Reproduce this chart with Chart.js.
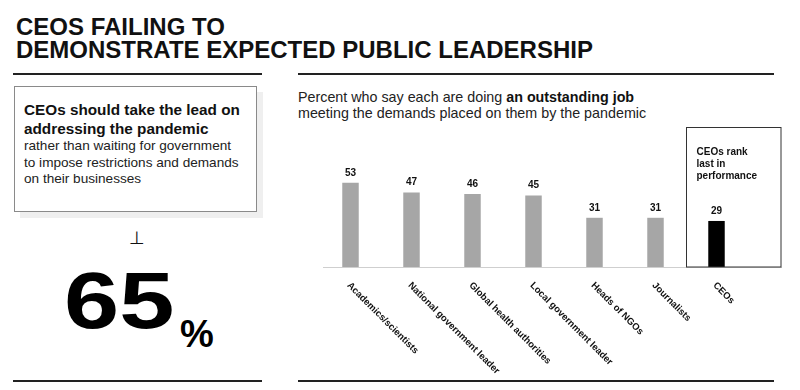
<!DOCTYPE html>
<html>
<head>
<meta charset="utf-8">
<script src="https://cdn.jsdelivr.net/npm/chart.js@4"></script>
<style>
    body { margin: 0; width: 800px; height: 390px; background: #fff; font-family: "Liberation Sans", Arial, sans-serif; color: #111; position: relative; overflow: hidden; }
    .title { position: absolute; left: 16px; top: 15px; font-size: 24px; font-weight: bold; line-height: 23px; color: #111; }
    .rule { position: absolute; height: 2px; background: #222; }
    .card { position: absolute; left: 14px; top: 86px; width: 241px; height: 124px; border: 1px solid #8a8a8a; box-shadow: 6px 6px 0 #efefef; background: #fff; }
    .card .lead { position: absolute; left: 9px; top: 13px; font-size: 15.3px; font-weight: bold; line-height: 19px; color: #111; }
    .card .rest { position: absolute; left: 9px; top: 51px; font-size: 13.6px; line-height: 16.5px; color: #222; }
    .perp { position: absolute; left: 129px; top: 227px; font-family: "DejaVu Sans", sans-serif; font-size: 18px; color: #111; }
    .big { position: absolute; left: 64px; top: 261px; font-size: 80px; line-height: 80px; font-weight: bold; color: #000; transform: scaleX(1.24); transform-origin: left top; }
    .pct { position: absolute; left: 180px; top: 313px; font-size: 38px; font-weight: bold; color: #000; }
    .sub { position: absolute; left: 298px; top: 89px; font-size: 14.3px; line-height: 16px; color: #222; }
    .sub b { color: #111; }
    #chartWrap { position: absolute; left: 300px; top: 120px; width: 490px; height: 260px; }
</style>
</head>
<body>
<div class="title">CEOS FAILING TO<br>DEMONSTRATE EXPECTED PUBLIC LEADERSHIP</div>
<div class="rule" style="left:13px; top:73px; width:249px;"></div>
<div class="rule" style="left:298px; top:73px; width:476px;"></div>
<div class="rule" style="left:13px; top:380px; width:249px;"></div>
<div class="rule" style="left:298px; top:380px; width:476px;"></div>

<div class="card">
    <div class="lead">CEOs should take the lead on<br>addressing the pandemic</div>
    <div class="rest">rather than waiting for government<br>to impose restrictions and demands<br>on their businesses</div>
</div>
<div class="perp">⊥</div>
<div class="big">65</div>
<div class="pct">%</div>

<div class="sub">Percent who say each are doing <b>an outstanding job</b><br>meeting the demands placed on them by the pandemic</div>

<div id="chartWrap"><canvas id="chart" width="490" height="260"></canvas></div>

<script>
const categories = ['Academics/scientists', 'National government leader', 'Global health authorities', 'Local government leader', 'Heads of NGOs', 'Journalists', 'CEOs'];
const outstandingJob = [53, 47, 46, 45, 31, 31, 29];
const barColors = ['#a6a6a6', '#a6a6a6', '#a6a6a6', '#a6a6a6', '#a6a6a6', '#a6a6a6', '#000000'];
const calloutLines = ['CEOs rank', 'last in', 'performance'];

// values above bars, rotated category labels, baseline and the CEO callout box
const decorations = {
    id: 'decorations',
    afterDatasetsDraw(chart) {
        const ctx = chart.ctx;
        const xs = chart.scales.x;
        const ys = chart.scales.y;
        const area = chart.chartArea;
        const base = ys.getPixelForValue(0);
        const step = xs.getPixelForValue(1) - xs.getPixelForValue(0);
        const right = area.right + 35;

        ctx.save();
        // baseline
        ctx.strokeStyle = '#cfcfcf';
        ctx.lineWidth = 1;
        ctx.beginPath();
        ctx.moveTo(area.left + 3, Math.round(base) + 0.5);
        ctx.lineTo(right, Math.round(base) + 0.5);
        ctx.stroke();

        // callout box around the last category
        const last = categories.length - 1;
        const boxLeft = Math.round(xs.getPixelForValue(last) - step / 2) + 0.5;
        const boxTop = Math.round(ys.getPixelForValue(88)) + 0.5;
        ctx.strokeStyle = '#333';
        ctx.strokeRect(boxLeft, boxTop, right - 1 - boxLeft, Math.round(base) - boxTop);
        ctx.fillStyle = '#111';
        ctx.font = 'bold 10px "Liberation Sans", Arial, sans-serif';
        ctx.textAlign = 'left';
        ctx.textBaseline = 'top';
        calloutLines.forEach((line, i) => ctx.fillText(line, boxLeft + 10, boxTop + 20 + i * 12));

        // value labels
        const meta = chart.getDatasetMeta(0);
        ctx.textAlign = 'center';
        ctx.textBaseline = 'bottom';
        meta.data.forEach((bar, i) => {
            ctx.fillText(String(outstandingJob[i]), bar.x, bar.y - 5);
        });

        // rotated category labels
        ctx.font = 'bold 9.5px "Liberation Sans", Arial, sans-serif';
        ctx.textAlign = 'left';
        ctx.textBaseline = 'middle';
        categories.forEach((label, i) => {
            ctx.save();
            ctx.translate(xs.getPixelForValue(i) - 2, base + 17);
            ctx.rotate(Math.PI / 4);
            ctx.fillText(label, 0, 0);
            ctx.restore();
        });
        ctx.restore();
    }
};

new Chart(document.getElementById('chart').getContext('2d'), {
    type: 'bar',
    data: {
        labels: categories,
        datasets: [{
            data: outstandingJob,
            backgroundColor: barColors,
            categoryPercentage: 1,
            barPercentage: 0.27
        }]
    },
    options: {
        responsive: false,
        animation: false,
        layout: { padding: { left: 20, right: 43, top: 20, bottom: 113 } },
        plugins: { legend: { display: false }, tooltip: { enabled: false } },
        scales: {
            x: { display: false },
            y: { display: false, min: 0, max: 80 }
        }
    },
    plugins: [decorations]
});
</script>
</body>
</html>
